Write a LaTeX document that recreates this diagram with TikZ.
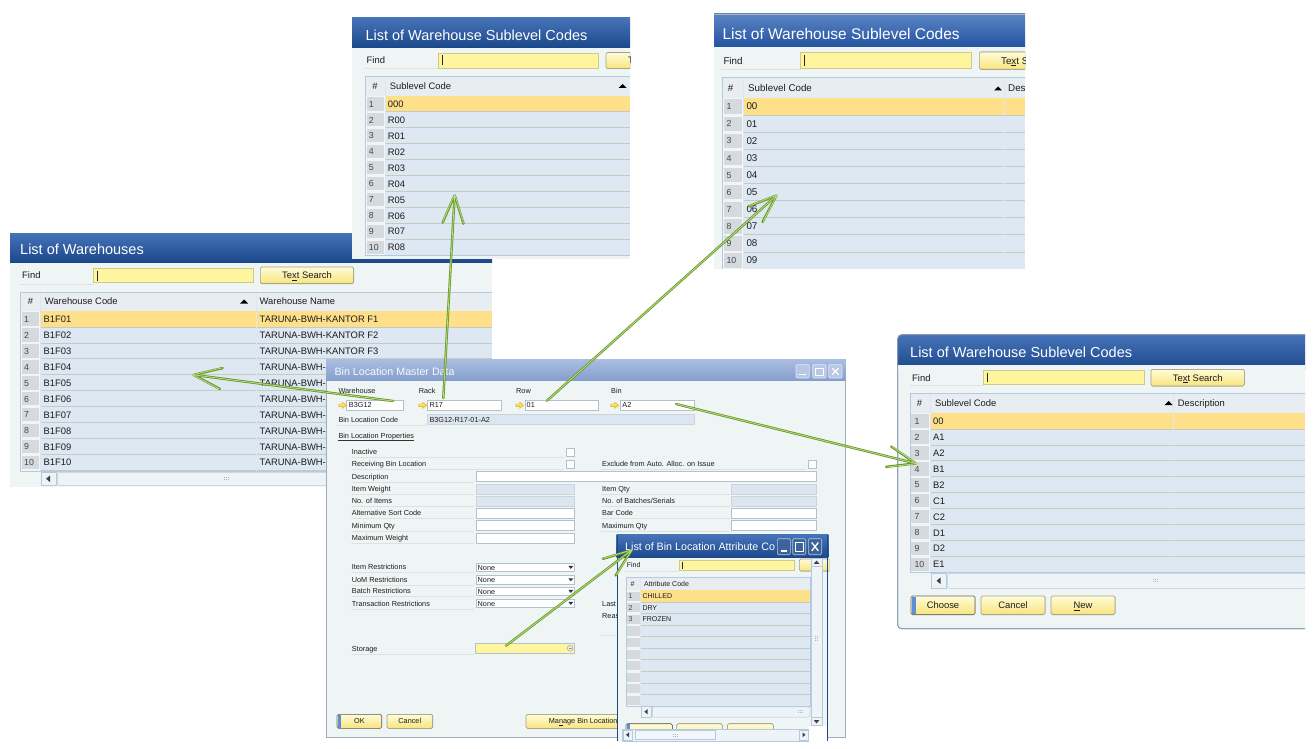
\documentclass[tikz,border=0pt]{standalone}
\usepackage{fontspec}
\setmainfont{Liberation Sans}
\usetikzlibrary{arrows.meta}
\definecolor{titA}{HTML}{4774B8}
\definecolor{titB}{HTML}{1B478B}
\definecolor{titC}{HTML}{5A85C4}
\definecolor{titD}{HTML}{2353A0}
\definecolor{inaA}{HTML}{AABDE0}
\definecolor{inaB}{HTML}{859FCD}
\definecolor{bodybg}{HTML}{EEF5F4}
\definecolor{findy}{HTML}{FFF59E}
\definecolor{findb}{HTML}{CFC98E}
\definecolor{btnt}{HTML}{FFFCD8}
\definecolor{btnb}{HTML}{F8E47C}
\definecolor{btnd}{HTML}{A3A08A}
\definecolor{hdrbg}{HTML}{E8EDF1}
\definecolor{rowbg}{HTML}{DEE8F3}
\definecolor{rowsep}{HTML}{C6CABF}
\definecolor{selbg}{HTML}{FEDF8A}
\definecolor{numbg}{HTML}{D5DADF}
\definecolor{tblb}{HTML}{B3CAE1}
\definecolor{txtc}{HTML}{1C1C1C}
\definecolor{graybl}{HTML}{DCE6F0}
\definecolor{fieldb}{HTML}{B4C0CC}
\definecolor{conndark}{HTML}{66991F}
\definecolor{connlight}{HTML}{BCD98F}
\definecolor{linky}{HTML}{FFE24D}
\definecolor{linkb}{HTML}{D9A514}
\definecolor{accent}{HTML}{5C8FD3}
\definecolor{frame}{HTML}{8797AE}
\definecolor{scrollbg}{HTML}{EEF3F8}
\begin{document}
\begin{tikzpicture}[x=1pt,y=-1pt,
  ttl/.style={font=\fontsize{14.5}{16}\selectfont, text=white, inner sep=0, anchor=west, text height=10.4pt, text depth=0pt},
  tx/.style={font=\fontsize{9.4}{11}\selectfont, text=txtc, inner sep=0, anchor=west, text height=6.8pt, text depth=0pt},
  tn/.style={font=\fontsize{8.8}{10}\selectfont, text=black!72, inner sep=0, anchor=west, text height=6.3pt, text depth=0pt},
  fl/.style={font=\fontsize{7.3}{8.5}\selectfont, text=txtc, inner sep=0, anchor=west, text height=5.3pt, text depth=0pt},
  fa/.style={font=\fontsize{7}{8}\selectfont, text=txtc, inner sep=0, anchor=west, text height=5pt, text depth=0pt},
  titlebar/.style={top color=titA, bottom color=titB, draw=none},
  findfield/.style={fill=findy, draw=findb, line width=0.6pt},
  btn/.style={top color=btnt, bottom color=btnb, draw=btnd, line width=0.6pt, rounded corners=1.5pt},
  rowline/.style={draw=rowsep, line width=0.7pt},
  colline/.style={draw=white!55!tblb, line width=0.7pt},
  numcell/.style={fill=numbg, draw=white!70!numbg, line width=0.7pt},
  tborder/.style={draw=tblb, line width=0.7pt},
  cursor/.style={draw=black!85, line width=0.8pt},
  uline/.style={draw=black!12, line width=0.6pt},
  field/.style={fill=white, draw=fieldb, line width=0.5pt},
  rofield/.style={fill=graybl, draw=fieldb!70, line width=0.5pt},
  sortmark/.style={fill=black},
  scrollbox/.style={fill=scrollbg, draw=tblb, line width=0.5pt},
  conn/.style={line width=2.4pt, draw=conndark, line cap=round, line join=round,
    -{Straight Barb[length=28pt,width=21pt,round]},
    postaction={draw=connlight, line width=0.8pt, -{Straight Barb[length=28pt,width=21pt,round]}}},
  grip/.pic={\foreach \gx in {-2,0,2} \foreach \gy in {-1,1} \fill[black!30] (\gx-0.45,\gy-0.45) rectangle ++(0.9,0.9);},
  linkarrow/.pic={\filldraw[fill=linky, draw=linkb, line width=0.4pt] (-3.8,-1.3) -- (0,-1.3) -- (0,-3.1) -- (3.8,0) -- (0,3.1) -- (0,1.3) -- (-3.8,1.3) -- cycle;},
]
\useasboundingbox (0,0) rectangle (1315,749);
\fill[white] (0,0) rectangle (1315,749);

%% ============ A: List of Warehouses
\begin{scope}
\clip (10,233) rectangle (492,487);
\fill[bodybg] (10,233) rectangle (492,487);
\shade[titlebar] (10,233) rectangle (492,262);
\node[ttl] (whTitle) at (20,249) {List of Warehouses};
\node[tx] (whFind) at (22,275.5) {Find};
\draw[uline] (20,284) -- (93.7,284);
\filldraw[findfield] (93.7,268) rectangle (253.7,282.7);
\draw[cursor] (97.5,270.5) -- (97.5,280.5);
\filldraw[btn] (260.3,267) rectangle (353.7,283.7);
\node[tx,anchor=center] (whSearch) at (307,275.5) {Te\underline{x}t Search};
\fill[hdrbg] (20.7,292) rectangle (492,311);
\node[tx,anchor=center] (whH0) at (30.5,301.5) {\#};
\node[tx] (whH1) at (44.7,301.5) {Warehouse Code};
\fill[sortmark] (240,303.5) -- (248,303.5) -- (244,299.5) -- cycle;
\node[tx] (whH2) at (259.5,301.5) {Warehouse Name};
\foreach \c [count=\i] in {01,02,03,04,05,06,07,08,09,10} {
  \pgfmathsetmacro\ya{311+(\i-1)*15.93}
  \pgfmathsetmacro\yb{\ya+15.93}
  \ifnum\i=1 \fill[selbg] (40.3,\ya) rectangle (492,\yb); \else \fill[rowbg] (40.3,\ya) rectangle (492,\yb); \fi
  \filldraw[numcell] (21.3,\ya+0.8) rectangle (39.7,\yb-0.8);
  \node[tn] (whN\i) at (24,\ya+8.2) {\i};
  \node[tx] (whC\i) at (43.5,\ya+8.2) {B1F\c};
  \ifnum\i<4 \node[tx] (whW\i) at (259.5,\ya+8.2) {TARUNA-BWH-KANTOR F\i}; \else \node[tx] (whW\i) at (259.5,\ya+8.2) {TARUNA-BWH-}; \fi
}
\foreach \i in {1,...,10} \draw[rowline] (40.3,311+\i*15.93) -- (492,311+\i*15.93);
\draw[colline] (40.3,292) -- (40.3,471.3);
\draw[colline] (256.3,292) -- (256.3,471.3);
\draw[tborder] (20.7,292) rectangle (498,471.3);
\filldraw[scrollbox] (41,472) rectangle (56,485.5);
\fill[black!75] (46,478.7) -- (50,475.5) -- (50,482) -- cycle;
\filldraw[scrollbox, rounded corners=2pt] (57.5,472.5) rectangle (500,485.5);
\pic at (226,478.7) {grip};
\end{scope}

%% ============ B: top-left sublevel codes
\begin{scope}
\clip (352,18) rectangle (630,258.5);
\fill[bodybg] (352,18) rectangle (630,258.5);
\shade[titlebar] (352,18) rectangle (630,48);
\node[ttl] (bTitle) at (365.3,35) {List of Warehouse Sublevel Codes};
\node[tx] (bFind) at (366.5,60.5) {Find};
\draw[uline] (364.7,68) -- (438.7,68);
\filldraw[findfield] (438.7,53) rectangle (598.7,68);
\draw[cursor] (442.3,55.5) -- (442.3,65.5);
\filldraw[btn] (606,52.5) rectangle (700,68.7);
\node[tx,anchor=center] (bSearch) at (653,60.6) {Te\underline{x}t Search};
\fill[hdrbg] (365.3,76.3) rectangle (630,95.7);
\node[tx,anchor=center] (bH0) at (375,86) {\#};
\node[tx] (bH1) at (389.7,86) {Sublevel Code};
\fill[sortmark] (618.5,88) -- (626.5,88) -- (622.5,84) -- cycle;
\foreach \c [count=\i] in {000,R00,R01,R02,R03,R04,R05,R06,R07,R08} {
  \pgfmathsetmacro\ya{95.7+(\i-1)*15.96}
  \pgfmathsetmacro\yb{\ya+15.96}
  \ifnum\i=1 \fill[selbg] (385.3,\ya) rectangle (630,\yb); \else \fill[rowbg] (385.3,\ya) rectangle (630,\yb); \fi
  \filldraw[numcell] (366,\ya+0.8) rectangle (384.7,\yb-0.8);
  \node[tn] (bN\i) at (368.7,\ya+8.2) {\i};
  \node[tx] (bC\i) at (387.7,\ya+8.2) {\c};
}
\foreach \i in {1,...,10} \draw[rowline] (385.3,95.7+\i*15.96) -- (630,95.7+\i*15.96);
\draw[colline] (385.3,76.3) -- (385.3,255.3);
\draw[tborder] (365.3,76.3) rectangle (640,255.3);
\fill[scrollbg] (365.3,255.8) rectangle (630,258.5);
\end{scope}

%% ============ C: top-right sublevel codes
\begin{scope}
\clip (714,13) rectangle (1025,268.5);
\fill[bodybg] (714,13) rectangle (1025,268.5);
\shade[top color=titC, bottom color=titD] (714,14) rectangle (1025,47);
\draw[black!30, line width=0.8pt] (714,14) -- (1025,14);
\node[ttl, font=\fontsize{15.5}{17}\selectfont, text height=11.1pt] (cTitle) at (722.3,33.5) {List of Warehouse Sublevel Codes};
\node[tx, font=\fontsize{9.8}{11}\selectfont] (cFind) at (723.3,61) {Find};
\draw[uline] (721,69.2) -- (800.7,69.2);
\filldraw[findfield] (800.7,52.7) rectangle (971.7,68.7);
\draw[cursor] (804.5,55.5) -- (804.5,66);
\filldraw[btn] (979.3,52) rectangle (1075,69.3);
\node[tx,anchor=center, font=\fontsize{9.8}{11}\selectfont] (cSearch) at (1027,60.8) {Te\underline{x}t Search};
\fill[hdrbg] (722.3,77.7) rectangle (1025,98);
\node[tx,anchor=center, font=\fontsize{9.8}{11}\selectfont] (cH0) at (730.5,88) {\#};
\node[tx, font=\fontsize{9.8}{11}\selectfont] (cH1) at (748,88) {Sublevel Code};
\fill[sortmark] (994,90.5) -- (1002,90.5) -- (998,86.5) -- cycle;
\node[tx, font=\fontsize{9.8}{11}\selectfont] (cH2) at (1008,88) {Description};
\foreach \c [count=\i] in {00,01,02,03,04,05,06,07,08,09} {
  \pgfmathsetmacro\ya{98+(\i-1)*17.1}
  \pgfmathsetmacro\yb{\ya+17.1}
  \ifnum\i=1 \fill[selbg] (743.3,\ya) rectangle (1025,\yb); \else \fill[rowbg] (743.3,\ya) rectangle (1025,\yb); \fi
  \filldraw[numcell] (723,\ya+0.8) rectangle (742.7,\yb-0.8);
  \node[tn] (cN\i) at (726.3,\ya+8.6) {\i};
  \node[tx, font=\fontsize{9.8}{11}\selectfont] (cC\i) at (746.3,\ya+8.6) {\c};
}
\foreach \i in {1,...,9} \draw[rowline] (743.3,98+\i*17.1) -- (1025,98+\i*17.1);
\draw[colline] (743.3,77.7) -- (743.3,268.5);
\draw[colline] (1004,77.7) -- (1004,268.5);
\draw[tborder] (1030,77.7) -- (722.3,77.7) -- (722.3,268.5);
\end{scope}

%% ============ D: right sublevel codes
\begin{scope}
\clip (896,333) rectangle (1305,630);
\filldraw[fill=bodybg, draw=frame, line width=0.8pt, rounded corners=4pt] (897.7,334.7) rectangle (1320,628.7);
\shade[titlebar, rounded corners=4pt] (897.7,334.7) rectangle (1320,370);
\fill[bodybg] (898.2,364.7) rectangle (1320,371);
\node[ttl] (dTitle) at (910,352) {List of Warehouse Sublevel Codes};
\node[tx] (dFind) at (912,378) {Find};
\draw[uline] (910,385) -- (983.7,385);
\filldraw[findfield] (983.7,370.3) rectangle (1144.3,384.7);
\draw[cursor] (987.5,372.8) -- (987.5,382.3);
\filldraw[btn] (1151,369.3) rectangle (1244.3,386);
\node[tx,anchor=center] (dSearch) at (1197.7,377.7) {Te\underline{x}t Search};
\fill[hdrbg] (910,393) rectangle (1305,413);
\node[tx,anchor=center] (dH0) at (919.5,403) {\#};
\node[tx] (dH1) at (935,403) {Sublevel Code};
\fill[sortmark] (1164.7,405) -- (1172.7,405) -- (1168.7,401) -- cycle;
\node[tx] (dH2) at (1177.7,403) {Description};
\foreach \c [count=\i] in {00,A1,A2,B1,B2,C1,C2,D1,D2,E1} {
  \pgfmathsetmacro\ya{413+(\i-1)*15.93}
  \pgfmathsetmacro\yb{\ya+15.93}
  \ifnum\i=1 \fill[selbg] (930.3,\ya) rectangle (1305,\yb); \else \fill[rowbg] (930.3,\ya) rectangle (1305,\yb); \fi
  \filldraw[numcell] (910.7,\ya+0.8) rectangle (929.7,\yb-0.8);
  \node[tn] (dN\i) at (914.3,\ya+8.1) {\i};
  \node[tx] (dC\i) at (933,\ya+8.1) {\c};
}
\foreach \i in {1,...,10} \draw[rowline] (930.3,413+\i*15.93) -- (1305,413+\i*15.93);
\draw[colline] (930.3,393) -- (930.3,572.3);
\draw[colline] (1173.7,393) -- (1173.7,572.3);
\draw[tborder] (910,393) rectangle (1310,572.3);
\filldraw[scrollbox] (931,573.3) rectangle (946,588.3);
\fill[black!75] (936.5,580.8) -- (940.5,577.6) -- (940.5,584) -- cycle;
\filldraw[scrollbox, rounded corners=2pt] (947.7,573.6) rectangle (1312,588.3);
\pic at (1155.3,580.8) {grip};
\filldraw[btn, draw=black!60] (911,596) rectangle (975,614.7);
\fill[accent] (911.6,596.6) rectangle (915.5,614.1);
\node[tx,anchor=center] (dChoose) at (943,605.3) {Choose};
\filldraw[btn] (981,596) rectangle (1045,614.7);
\node[tx,anchor=center] (dCancel) at (1013,605.3) {Cancel};
\filldraw[btn] (1051,596) rectangle (1115,614.7);
\node[tx,anchor=center] (dNew) at (1083,605.3) {\underline{N}ew};
\draw[frame, line width=0.8pt, rounded corners=4pt] (897.7,334.7) rectangle (1320,628.7);
\end{scope}

%% ============ E: Bin Location Master Data
\begin{scope}
\clip (326,359.5) rectangle (846,738);
\filldraw[fill=bodybg, draw=frame!80, line width=0.8pt] (326.4,359.7) rectangle (845.6,737.6);
\shade[top color=inaA, bottom color=inaB] (326.4,359.7) rectangle (845.6,380);
\node[ttl, font=\fontsize{10.7}{12}\selectfont, text height=7.7pt, text=white!92!inaA] (eTitle) at (334.3,372) {Bin Location Master Data};
\filldraw[fill=inaA!85!white, draw=white!65!inaA, line width=0.6pt, rounded corners=1pt] (796,364.7) rectangle (809.3,378);
\filldraw[fill=inaA!85!white, draw=white!65!inaA, line width=0.6pt, rounded corners=1pt] (812.7,364.7) rectangle (826,378);
\filldraw[fill=inaA!85!white, draw=white!65!inaA, line width=0.6pt, rounded corners=1pt] (828.7,364.7) rectangle (842,378);
\draw[white, line width=1.3pt] (799,374.5) -- (806,374.5);
\draw[white, line width=0.8pt] (815.5,368) rectangle (823,375);
\draw[white, line width=1.3pt] (815.5,368.3) -- (823,368.3);
\draw[white, line width=1.2pt] (832,368) -- (838.7,374.7) (838.7,368) -- (832,374.7);
% header fields
\node[fl] (eWhL) at (338.3,390.7) {Warehouse};
\node[fl] (eRkL) at (418.7,390.7) {Rack};
\node[fl] (eRwL) at (516,390.7) {Row};
\node[fl] (eBnL) at (611,390.7) {Bin};
\pic at (342.5,405.3) {linkarrow};
\pic at (422.7,405.3) {linkarrow};
\pic at (519.7,405.3) {linkarrow};
\pic at (614.7,405.3) {linkarrow};
\filldraw[field] (346.7,400) rectangle (403.3,410.7);
\node[fl] (eWh) at (348.7,405.3) {B3G12};
\filldraw[field] (427.7,400) rectangle (501.7,410.7);
\node[fl] (eRk) at (429.3,405.3) {R17};
\filldraw[field] (525,400) rectangle (598.7,410.7);
\node[fl] (eRw) at (526.5,405.3) {01};
\filldraw[field] (620.7,400) rectangle (694,410.7);
\node[fl] (eBn) at (622.2,405.3) {A2};
\node[fl] (eCodeL) at (338.3,419.7) {Bin Location Code};
\draw[uline] (337,425) -- (426,425);
\filldraw[rofield] (427.7,414.7) rectangle (694,424.3);
\node[fl] (eCode) at (429.3,419.6) {B3G12-R17-01-A2};
\node[fl] (eProp) at (338.3,436.3) {Bin Location Properties};
\draw[black!80, line width=0.5pt] ([yshift=-1.2pt]eProp.base west) -- ([yshift=-1.2pt]eProp.base east);
% left column labels
\foreach \lab/\yy [count=\k] in {Inactive/452.3, Receiving Bin Location/464.3, Description/476.7, Item Weight/489.3, No. of Items/501.3, Alternative Sort Code/513.3, Minimum Qty/525.7, Maximum Weight/538, Item Restrictions/567.3, UoM Restrictions/580, Batch Restrictions/591.3, Transaction Restrictions/603.7, Storage/648.7} {
  \node[fl] (eL\k) at (351.7,\yy) {\lab};
  \draw[uline] (351,\yy+5.4) -- (474,\yy+5.4);
}
\draw[uline] (474,457.7) -- (564,457.7);
\draw[uline] (474,469.7) -- (564,469.7);
\filldraw[field] (566.7,448.3) rectangle (574.7,456);
\filldraw[field] (566.7,460.3) rectangle (574.7,468.3);
% right column labels
\node[fl] (eR1) at (602,464.3) {Exclude from Auto. Alloc. on Issue};
\node[fl] (eR2) at (602,489.3) {Item Qty};
\node[fl] (eR3) at (602,501.3) {No. of Batches/Serials};
\node[fl] (eR4) at (602,513.3) {Bar Code};
\node[fl] (eR5) at (602,525.7) {Maximum Qty};
\node[fl] (eR6) at (602,603.7) {Last};
\node[fl] (eR7) at (602,616) {Reas};
\draw[uline] (601,469.7) -- (806,469.7);
\foreach \yy in {494.7,506.7,518.7,531.1} \draw[uline] (601,\yy) -- (730,\yy);
\draw[uline] (601,635) -- (617,635);
\filldraw[field] (808.3,460.3) rectangle (816.3,468.3);
% fields
\filldraw[field] (476,471.7) rectangle (816,481.7);
\filldraw[rofield] (476,484.3) rectangle (574.3,494);
\filldraw[rofield] (731.7,484.3) rectangle (816.3,494);
\filldraw[rofield] (476,496.7) rectangle (574.3,506);
\filldraw[rofield] (731.7,496.7) rectangle (816.3,506);
\filldraw[field] (476,508.7) rectangle (574.3,518);
\filldraw[field] (731.7,508.7) rectangle (816.3,518);
\filldraw[field] (476,520.7) rectangle (574.3,530.3);
\filldraw[field] (731.7,520.7) rectangle (816.3,530.3);
\filldraw[field] (476,533.3) rectangle (574.3,543);
\foreach \ya/\nm in {563.3/eD1, 575.7/eD2, 587.3/eD3, 599.3/eD4} {
  \filldraw[field] (476,\ya) rectangle (574.3,\ya+8.2);
  \node[fl] (\nm) at (477.5,\ya+4.1) {None};
  \fill[black!80] (568.3,\ya+2.6) -- (573.3,\ya+2.6) -- (570.8,\ya+5.6) -- cycle;
}
\filldraw[fill=findy, draw=fieldb, line width=0.5pt] (475.3,643.3) rectangle (574.3,653.3);
\filldraw[fill=black!8, draw=black!35, line width=0.5pt] (570.2,648.3) circle (2.9);
\draw[black!40, line width=0.6pt] (568.6,648.3) -- (571.8,648.3);
% buttons
\filldraw[btn, draw=black!55] (337,714.3) rectangle (381.7,728.3);
\fill[accent] (337.6,714.9) rectangle (341,727.7);
\node[fl,anchor=center] (eOK) at (359.5,721.3) {OK};
\filldraw[btn] (387,714.3) rectangle (432.7,728.3);
\node[fl,anchor=center] (eCancel) at (409.8,721.3) {Cancel};
\filldraw[btn] (526,714.3) rectangle (640,728.3);
\node[fl] (eManage) at (548.7,721.3) {Ma\underline{n}age Bin Location};
\end{scope}

%% ============ F: List of Bin Location Attribute Codes
\begin{scope}
\clip (616,534) rectangle (829,741);
\fill[bodybg] (616.7,534.7) rectangle (828.3,741);
\shade[titlebar] (616.7,534.7) rectangle (828.3,557.5);
\begin{scope}
\clip (616,534) rectangle (777,558);
\node[ttl, font=\fontsize{10.7}{12}\selectfont, text height=7.7pt] (fTitle) at (625,547) {List of Bin Location Attribute Co};
\end{scope}
\filldraw[fill=titB!85!white, draw=white!60!titA, line width=0.6pt, rounded corners=1.2pt] (777.3,538.7) rectangle (790.3,554.7);
\filldraw[fill=titB!85!white, draw=white!60!titA, line width=0.6pt, rounded corners=1.2pt] (792.7,538.7) rectangle (805.7,554.7);
\filldraw[fill=titB!85!white, draw=white!60!titA, line width=0.6pt, rounded corners=1.2pt] (808.3,538.7) rectangle (821.7,554.7);
\draw[white, line width=1.4pt] (780.5,550.8) -- (787,550.8);
\draw[white, line width=0.8pt] (795.5,542.3) rectangle (803,551.3);
\draw[white, line width=1.4pt] (795.5,542.6) -- (803,542.6);
\draw[white, line width=1.3pt] (811.7,542.5) -- (818.3,550.8) (818.3,542.5) -- (811.7,550.8);
\node[fa] (fFind) at (626.7,565.3) {Find};
\draw[uline] (625,571.5) -- (679,571.5);
\filldraw[findfield] (679,560.3) rectangle (794.3,570.3);
\draw[cursor] (682,562) -- (682,568.7);
\filldraw[btn] (799.3,559) rectangle (840,571);
% vertical scrollbar
\filldraw[scrollbox] (811,557.8) rectangle (822.3,725.3);
\filldraw[scrollbox] (811.5,558.3) rectangle (821.8,566.5);
\fill[black!75] (813.8,563.8) -- (819.3,563.8) -- (816.5,560.6) -- cycle;
\filldraw[scrollbox] (811.5,717) rectangle (821.8,725);
\fill[black!75] (813.8,720.2) -- (819.3,720.2) -- (816.5,723.4) -- cycle;
\foreach \gx in {-1,1} \foreach \gy in {-2,0,2} \fill[black!30] (816+\gx-0.45,638+\gy-0.45) rectangle ++(0.9,0.9);
% table
\fill[hdrbg] (626,577) rectangle (810,590.3);
\node[fa,anchor=center] (fH0) at (632.5,583.7) {\#};
\node[fa] (fH1) at (644,583.7) {Attribute Code};
\foreach \i in {1,...,10} {
  \pgfmathsetmacro\ya{590.3+(\i-1)*11.57}
  \pgfmathsetmacro\yb{\ya+11.57}
  \ifnum\i=1 \fill[selbg] (640.7,\ya) rectangle (810,\yb); \else \fill[rowbg] (640.7,\ya) rectangle (810,\yb); \fi
  \filldraw[numcell] (626.6,\ya+0.7) rectangle (640.1,\yb-0.7);
  \ifnum\i<4 \node[fa, text=black!72] (fN\i) at (628.5,\ya+6) {\i}; \fi
}
\foreach \i in {1,...,10} \draw[rowline] (640.7,590.3+\i*11.57) -- (810,590.3+\i*11.57);
\node[fa] (fC1) at (642.3,596.3) {CHILLED};
\node[fa] (fC2) at (642.3,607.9) {DRY};
\node[fa] (fC3) at (642.3,619.4) {FROZEN};
\draw[colline] (640.7,577) -- (640.7,706);
\draw[tborder] (626,577) rectangle (810,706);
\filldraw[scrollbox] (641,706.5) rectangle (651.5,717);
\fill[black!75] (644.3,711.7) -- (647.5,709.2) -- (647.5,714.2) -- cycle;
\filldraw[scrollbox, rounded corners=2pt] (652.3,706.8) rectangle (810,717);
\pic at (800,711.8) {grip};
% buttons (partly hidden)
\filldraw[btn, draw=black!60] (626,723.7) rectangle (672.3,740);
\fill[accent] (626.6,724.3) rectangle (629.5,739.4);
\filldraw[btn] (676.7,723.7) rectangle (722.3,740);
\filldraw[btn] (727.3,723.7) rectangle (773.3,740);
% bottom window scrollbar
\fill[white] (808.3,726) rectangle (828.3,741);
\filldraw[scrollbox] (622.3,729.3) rectangle (808.3,741);
\filldraw[scrollbox] (623,729.8) rectangle (632,740);
\fill[black!75] (626,734.8) -- (629,732.3) -- (629,737.3) -- cycle;
\filldraw[scrollbox, fill=white!60!rowbg] (635,730.5) rectangle (715,739.5);
\pic at (675,735) {grip};
\filldraw[scrollbox] (799.5,729.8) rectangle (808,740);
\fill[black!75] (805.5,734.8) -- (802.5,732.3) -- (802.5,737.3) -- cycle;
\draw[titB, line width=1.4pt] (617.4,534.7) -- (617.4,741);
\draw[titB, line width=1.4pt] (827.6,534.7) -- (827.6,741);
\end{scope}

%% ============ connectors
\coordinate (a1s) at (393,401);
\coordinate (a1e) at (192.3,374.7);
\coordinate (a2s) at (443.3,398);
\coordinate (a2e) at (454.7,194);
\coordinate (a3s) at (547,400.7);
\coordinate (a3e) at (777.3,194.7);
\coordinate (a4s) at (676,404);
\coordinate (a4e) at (917,463.7);
\coordinate (a5s) at (506,645.7);
\coordinate (a5e) at (632.5,549.5);
\draw[conn] (a1s) -- (a1e);
\draw[conn] (a2s) -- (a2e);
\draw[conn] (a3s) -- (a3e);
\draw[conn] (a4s) -- (a4e);
\draw[conn] (a5s) -- (a5e);
\end{tikzpicture}
\end{document}
